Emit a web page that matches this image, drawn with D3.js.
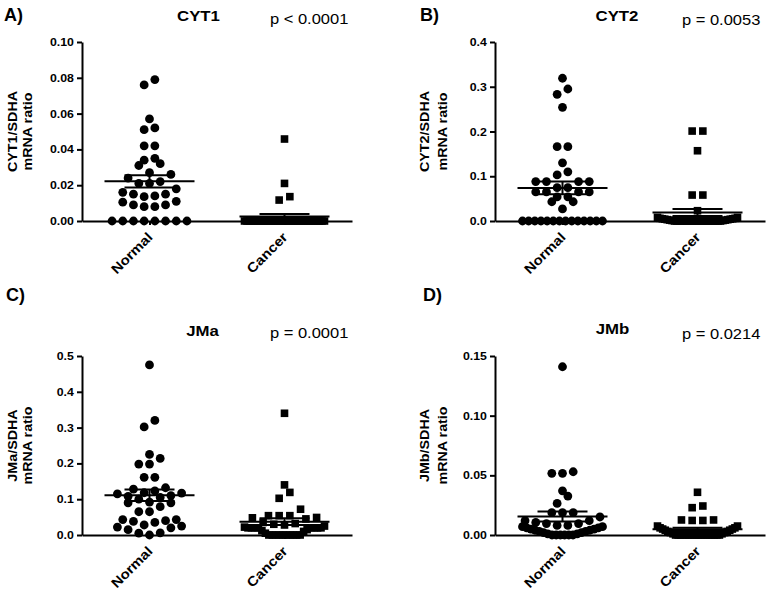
<!DOCTYPE html>
<html><head><meta charset="utf-8">
<script src="https://cdn.jsdelivr.net/npm/d3@7"></script>
<style>
body{margin:0;background:#fff}
svg{display:block}
text{font-family:Arial,"Liberation Sans",sans-serif;fill:#000}
</style>
</head><body>
<svg id="c" width="769" height="590"></svg>
<script>
// ---------------- DATA ----------------
const categories = ["Normal", "Cancer"];
const panelLetters = ["A)", "B)", "C)", "D)"];
const panelTitles = ["CYT1", "CYT2", "JMa", "JMb"];
const pValues = ["p < 0.0001", "p = 0.0053", "p = 0.0001", "p = 0.0214"];
const yLabels = [["CYT1/SDHA", "mRNA ratio"], ["CYT2/SDHA", "mRNA ratio"], ["JMa/SDHA", "mRNA ratio"], ["JMb/SDHA", "mRNA ratio"]];
const yMax = [0.10, 0.4, 0.5, 0.15];
const yTicks = [[0, 0.02, 0.04, 0.06, 0.08, 0.10], [0, 0.1, 0.2, 0.3, 0.4], [0, 0.1, 0.2, 0.3, 0.4, 0.5], [0, 0.05, 0.10, 0.15]];
const tickFormats = [".2f", ".1f", ".1f", ".2f"];

const cyt1Normal = [0.079, 0.076, 0.057, 0.051, 0.052, 0.042, 0.042, 0.034, 0.035, 0.031, 0.032, 0.027, 0.026, 0.024, 0.021, 0.021, 0.022, 0.018, 0.015, 0.014, 0.015, 0.016, 0.0136, 0.011, 0.009, 0.008, 0.008, 0.009, 0.0105, 0, 0, 0, 0, 0, 0, 0, 0];
const cyt1Cancer = [0.0458, 0.021, 0.0136, 0.0117, 0, 0, 0, 0, 0, 0, 0, 0, 0, 0, 0, 0, 0, 0, 0, 0, 0, 0, 0, 0, 0, 0, 0, 0, 0, 0, 0, 0, 0, 0, 0, 0, 0];
const cyt2Normal = [0.319, 0.295, 0.283, 0.254, 0.166, 0.166, 0.130, 0.110, 0.103, 0.088, 0.088, 0.088, 0.088, 0.0745, 0.0745, 0.065, 0.065, 0.065, 0.065, 0.054, 0.054, 0.043, 0.043, 0.027, 0, 0, 0, 0, 0, 0, 0, 0, 0, 0, 0, 0, 0, 0];
const cyt2Cancer = [0.201, 0.201, 0.157, 0.058, 0.058, 0.023, 0.008, 0.008, 0.006, 0.006, 0.005, 0.005, 0.004, 0.004, 0.003, 0.003, 0.002, 0.002, 0.001, 0.001, 0, 0, 0, 0, 0, 0, 0, 0, 0, 0, 0, 0, 0, 0, 0, 0, 0, 0, 0, 0];
const jmaNormal = [0.475, 0.32, 0.302, 0.225, 0.214, 0.198, 0.198, 0.161, 0.161, 0.132, 0.128, 0.123, 0.118, 0.117, 0.115, 0.11, 0.108, 0.105, 0.10, 0.092, 0.09, 0.09, 0.079, 0.065, 0.065, 0.043, 0.038, 0.035, 0.04, 0.043, 0.028, 0.022, 0.02, 0.025, 0.015, 0.006, 0, 0.005];
const jmaCancer = [0.34, 0.14, 0.119, 0.1025, 0.072, 0.054, 0.054, 0.054, 0.049, 0.048, 0.045, 0.035, 0.032, 0.03, 0.028, 0.025, 0.022, 0.02, 0.02, 0.02, 0.02, 0.02, 0.02, 0.02, 0.02, 0.015, 0.012, 0.01, 0.005, 0, 0, 0, 0, 0, 0, 0, 0, 0, 0];
const jmbNormal = [0.141, 0.053, 0.0517, 0.0517, 0.037, 0.0326, 0.0265, 0.0187, 0.0187, 0.0187, 0.0151, 0.012, 0.0105, 0.0096, 0.0096, 0.012, 0.008, 0.008, 0.007, 0.007, 0.006, 0.006, 0.005, 0.005, 0.004, 0.004, 0.003, 0.003, 0.002, 0.002, 0.001, 0.001, 0, 0, 0, 0, 0, 0];
const jmbCancer = [0.0358, 0.0243, 0.0229, 0.0126, 0.0122, 0.0122, 0.0126, 0.0075, 0.0075, 0.006, 0.006, 0.005, 0.005, 0.004, 0.004, 0.003, 0.003, 0.002, 0.002, 0.001, 0.001, 0, 0, 0, 0, 0, 0, 0, 0, 0, 0, 0, 0, 0, 0, 0, 0, 0, 0];

const seriesNormal = [cyt1Normal, cyt2Normal, jmaNormal, jmbNormal];
const seriesCancer = [cyt1Cancer, cyt2Cancer, jmaCancer, jmbCancer];

// ---------------- LAYOUT (positions) ----------------
const frames = [
  {x0: 82, x1: 352, top: 42, bot: 221, lx: 4, ly: 21, tx: 198.5, ty: 21, px: 270, py: 24, yl1: 16.5, yl2: 32},
  {x0: 495, x1: 765, top: 42, bot: 221, lx: 420, ly: 21, tx: 617, ty: 21, px: 682, py: 25, yl1: 428.5, yl2: 446.5},
  {x0: 82, x1: 352, top: 356, bot: 535, lx: 6, ly: 301, tx: 202.5, ty: 336, px: 270, py: 338, yl1: 16.5, yl2: 32},
  {x0: 495, x1: 765, top: 356, bot: 535, lx: 423, ly: 301, tx: 612.5, ty: 334, px: 682, py: 339, yl1: 428.5, yl2: 446.5}
];
const STRETCH = 1.12;
const R = 4.4, SQ = 7.6;

const svg = d3.select("#c");

function swarm(values, y, cx) {
  const d = 9, sp = 10.7, maxHalf = 40;
  const pts = values.map(v => ({v, py: y(v)})).sort((a, b) => a.v - b.v);
  const rows = []; let cur = null;
  for (const p of pts) {
    if (!cur || cur.start - p.py > d) { cur = {start: p.py, items: []}; rows.push(cur); }
    cur.items.push(p);
  }
  rows.forEach(r => {
    const n = r.items.length;
    const s = n > 1 ? Math.min(sp, 2 * maxHalf / (n - 1)) : 0;
    const slots = d3.range(n).map(i => (i - (n - 1) / 2) * s);
    slots.sort((a, b) => Math.abs(a) - Math.abs(b) || a - b);
    r.items.forEach((p, i) => p.px = cx + slots[i]);
  });
  return pts;
}

frames.forEach((f, i) => {
  const g = svg.append("g");
  const y = d3.scaleLinear().domain([0, yMax[i]]).range([f.bot, f.top]);
  const x = d3.scalePoint().domain(categories).range([f.x0, f.x1]).padding(0.5);

  // y axis
  const ya = g.append("g").attr("transform", `translate(${f.x0},0)`)
    .call(d3.axisLeft(y).tickValues(yTicks[i]).tickFormat(d3.format(tickFormats[i])).tickSize(5).tickSizeOuter(0).tickPadding(2));
  ya.select(".domain").attr("stroke", "#000").attr("stroke-width", 2);
  ya.selectAll(".tick line").attr("stroke", "#000").attr("stroke-width", 2);
  ya.selectAll(".tick text").attr("font-size", 11).attr("font-weight", "bold")
    .attr("font-family", "Arial, 'Liberation Sans', sans-serif").attr("fill", "#000")
    .attr("transform", `scale(${STRETCH},1)`).attr("x", -7 / STRETCH - 1);

  // x axis
  const xa = g.append("g").attr("transform", `translate(0,${f.bot})`)
    .call(d3.axisBottom(x).tickSize(4).tickSizeOuter(0).tickFormat(""));
  xa.select(".domain").attr("stroke", "#000").attr("stroke-width", 2);
  xa.selectAll(".tick line").attr("stroke", "#000").attr("stroke-width", 2);
  g.selectAll(".xl").data(categories).join("text").attr("class", "xl")
    .attr("transform", d => `translate(${x(d) + 4},${f.bot + 17}) rotate(-45) scale(${STRETCH},1)`)
    .attr("text-anchor", "end").attr("font-size", 13.5).attr("font-weight", "bold").text(d => d);

  // points
  const normPts = swarm(seriesNormal[i], y, x("Normal"));
  const cancPts = swarm(seriesCancer[i], y, x("Cancer"));
  g.append("g").selectAll("circle").data(normPts).join("circle")
    .attr("cx", d => d.px).attr("cy", d => d.py).attr("r", R).attr("fill", "#000");
  g.append("g").selectAll("rect").data(cancPts).join("rect")
    .attr("x", d => d.px - SQ / 2).attr("y", d => d.py - SQ / 2).attr("width", SQ).attr("height", SQ).attr("fill", "#000");

  // mean +/- SEM
  [["Normal", seriesNormal[i]], ["Cancer", seriesCancer[i]]].forEach(([cat, vals]) => {
    const m = d3.mean(vals), se = d3.deviation(vals) / Math.sqrt(vals.length);
    const cx = x(cat);
    const lg = g.append("g").attr("stroke", "#000").attr("stroke-width", 2);
    lg.append("line").attr("x1", cx - 45).attr("x2", cx + 45).attr("y1", y(m)).attr("y2", y(m));
    lg.append("line").attr("x1", cx - 25).attr("x2", cx + 25).attr("y1", y(m + se)).attr("y2", y(m + se));
    lg.append("line").attr("x1", cx - 25).attr("x2", cx + 25).attr("y1", y(m - se)).attr("y2", y(m - se));
    lg.append("line").attr("x1", cx).attr("x2", cx).attr("y1", y(m + se)).attr("y2", y(m - se));
  });

  // texts
  g.append("text").attr("x", f.lx).attr("y", f.ly).attr("font-size", 18).attr("font-weight", "bold").text(panelLetters[i]);
  g.append("text").attr("transform", `translate(${f.tx},${f.ty}) scale(${STRETCH},1)`)
    .attr("text-anchor", "middle").attr("font-size", 15).attr("font-weight", "bold").text(panelTitles[i]);
  g.append("text").attr("transform", `translate(${f.px},${f.py}) scale(1.1,1)`)
    .attr("font-size", 15).text(pValues[i]);
  const cy = (f.top + f.bot) / 2;
  [f.yl1, f.yl2].forEach((bx, k) => {
    g.append("text").attr("transform", `translate(${bx},${cy}) rotate(-90) scale(1.06,1)`)
      .attr("text-anchor", "middle").attr("font-size", 13.5).attr("font-weight", "bold").text(yLabels[i][k]);
  });
});
</script>
</body></html>
